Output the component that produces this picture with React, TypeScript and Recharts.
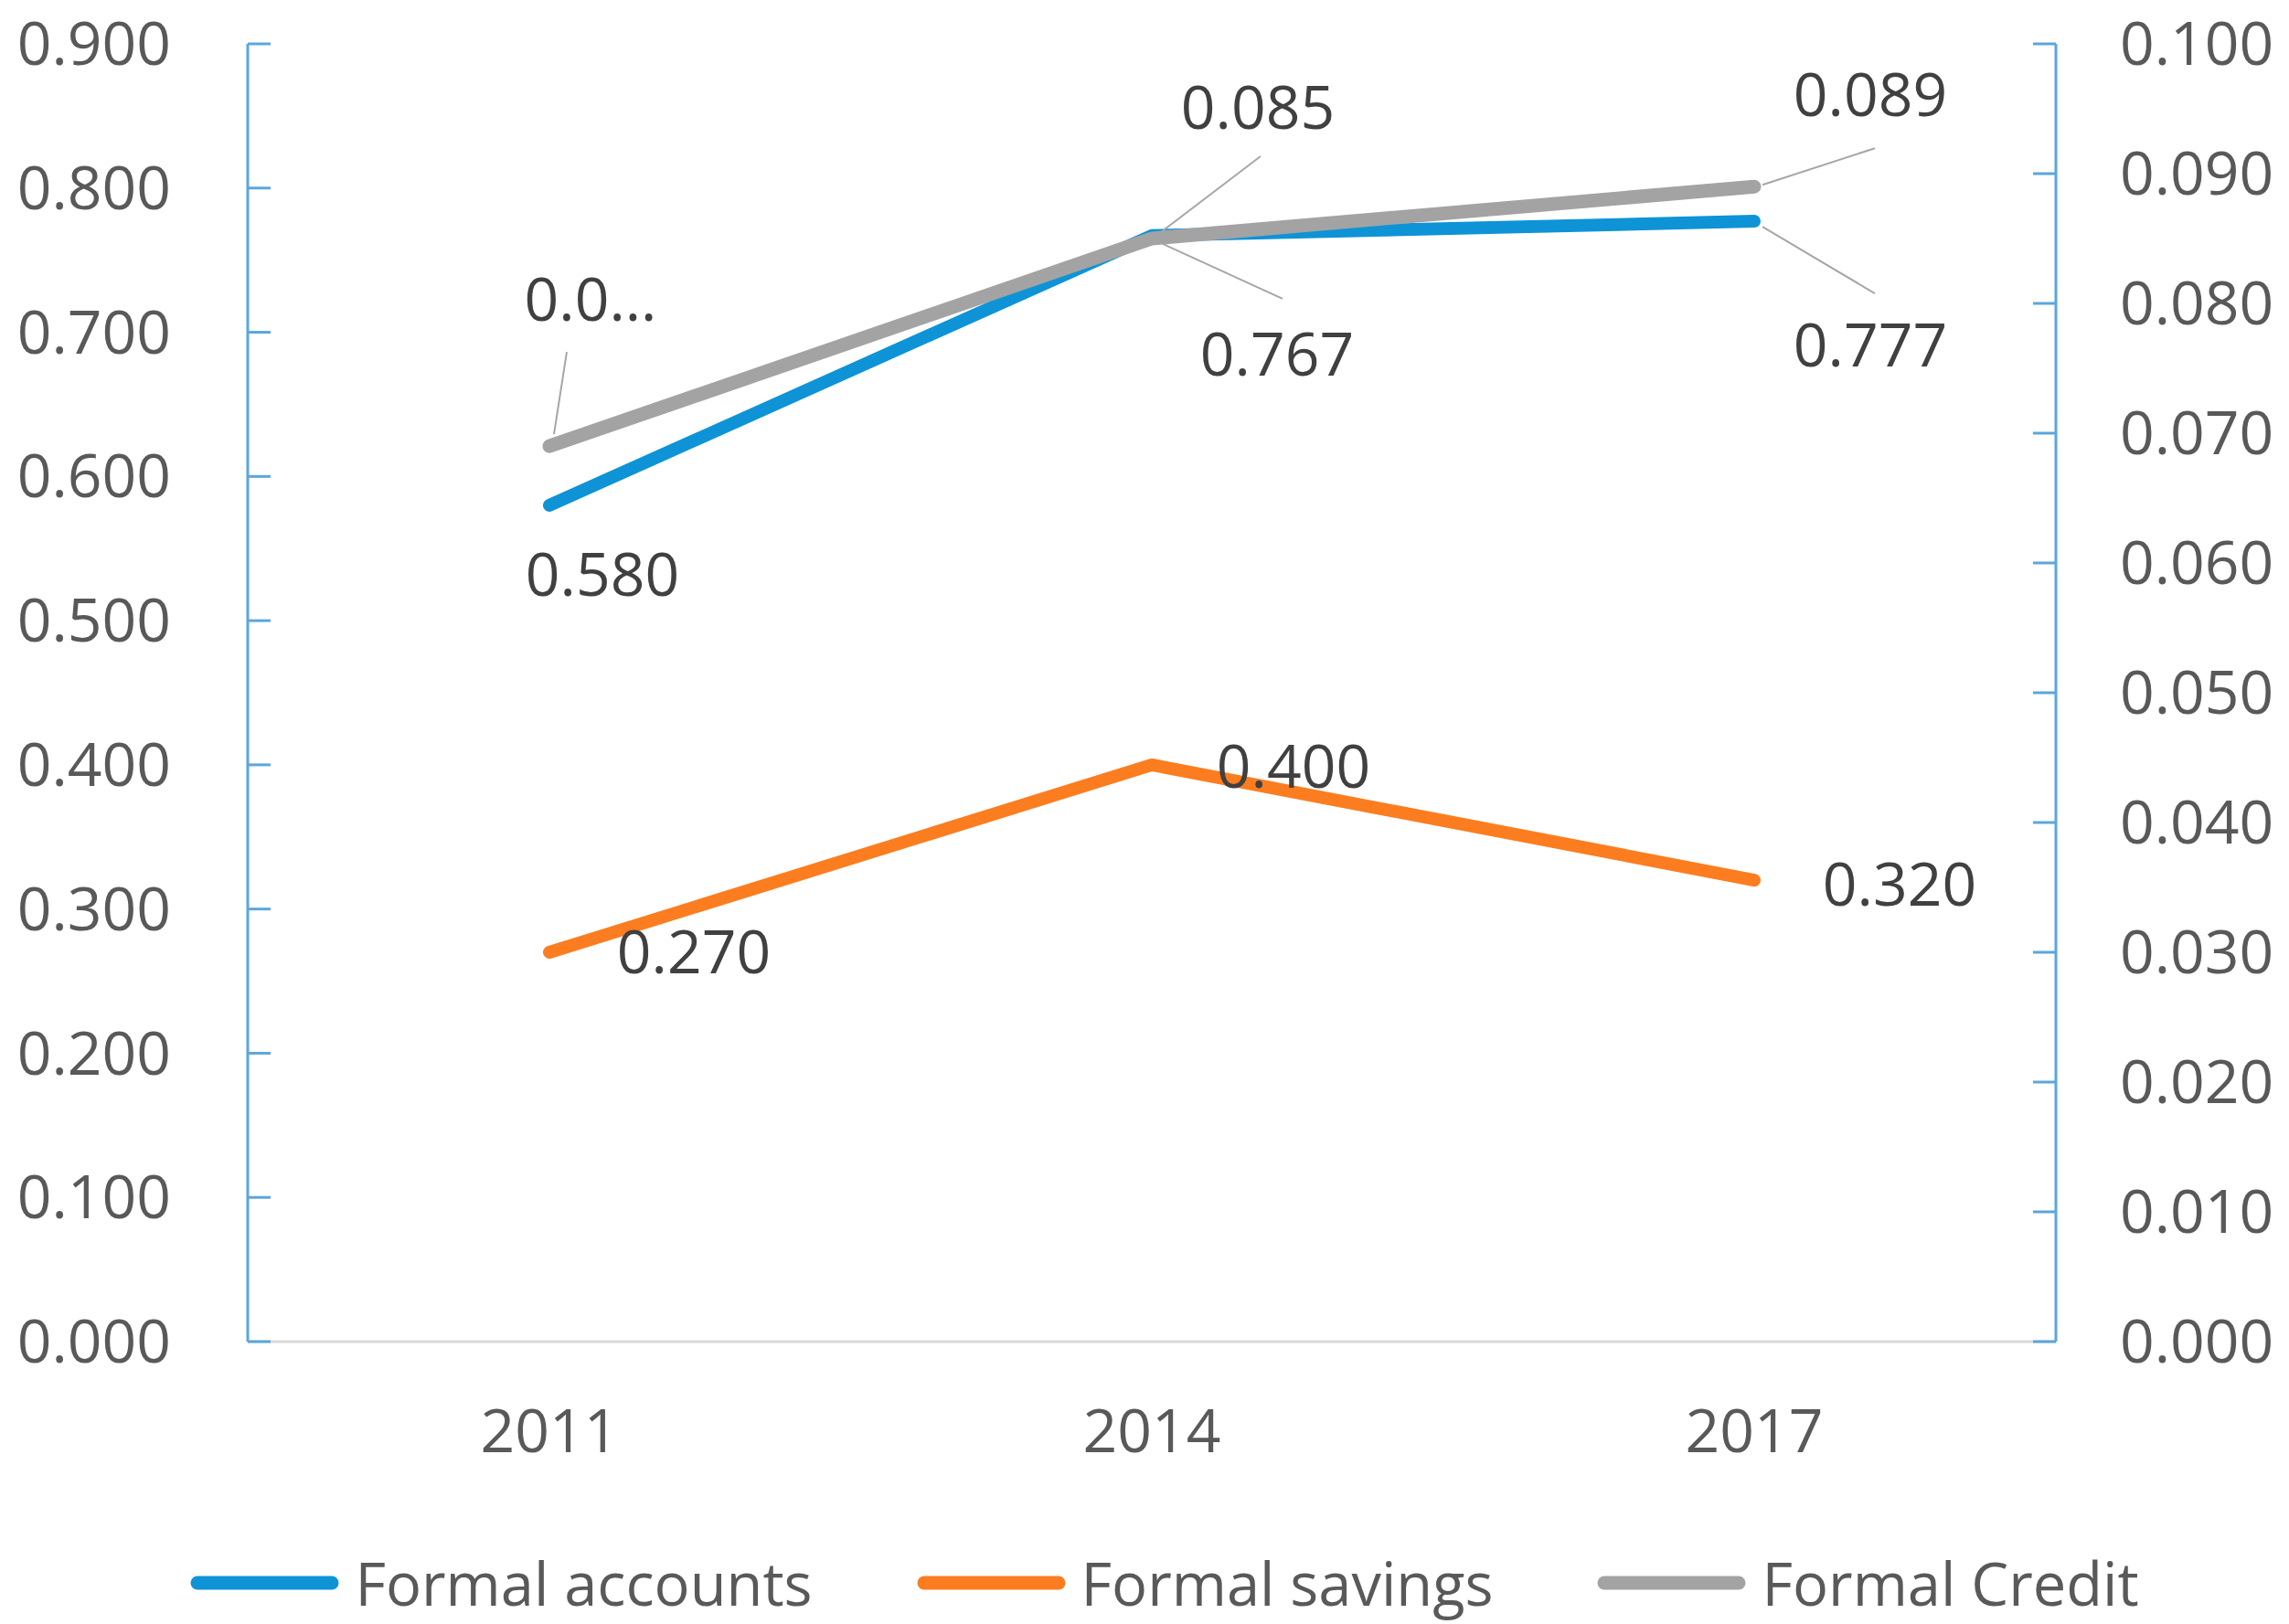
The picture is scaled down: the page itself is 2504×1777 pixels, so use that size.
import React from "react";
import { LineChart, Line, XAxis, YAxis, Legend, LabelList } from "recharts";

const years = ["2011", "2014", "2017"];
const formalAccounts = [0.58, 0.767, 0.777];
const formalSavings = [0.27, 0.4, 0.32];
const formalCredit = [0.069, 0.085, 0.089];
const seriesNames = ["Formal accounts", "Formal savings", "Formal Credit"];
const leftTicks = [0, 0.1, 0.2, 0.3, 0.4, 0.5, 0.6, 0.7, 0.8, 0.9];
const rightTicks = [0, 0.01, 0.02, 0.03, 0.04, 0.05, 0.06, 0.07, 0.08, 0.09, 0.1];

const data = years.map((year, i) => ({
  year,
  accounts: formalAccounts[i],
  savings: formalSavings[i],
  credit: formalCredit[i],
}));

const FONT = '"Open Sans", "Noto Sans", sans-serif';
const AXIS_BLUE = "#5BA6DD";
const TICK_TEXT = "#595959";
const LABEL_TEXT = "#404040";

// label placement relative to each point, plus optional leader line
type LabelSpec = { dx: number; dy: number; text?: string; lead?: number[] };

const accountLabels: LabelSpec[] = [
  { dx: 58, dy: 76 },
  { dx: 137, dy: 130, lead: [12, 9, 143, 69] },
  { dx: 127, dy: 136, lead: [9, 6, 132, 79] },
];
const savingsLabels: LabelSpec[] = [
  { dx: 158, dy: 0 },
  { dx: 155, dy: 2 },
  { dx: 159, dy: 5 },
];
const creditLabels: LabelSpec[] = [
  { dx: 45, dy: -160, text: "0.0...", lead: [5, -13, 19, -103] },
  { dx: 116, dy: -143, lead: [10, -7, 119, -90] },
  { dx: 127, dy: -100, lead: [9, -2, 132, -42] },
];

const makeLabel = (specs: LabelSpec[]) => (props: any) => {
  const x = props.x ?? props.viewBox?.x;
  const y = props.y ?? props.viewBox?.y;
  const index = props.index ?? 0;
  const spec = specs[index];
  if (x == null || y == null || !spec) return null;
  const text = spec.text ?? Number(props.value).toFixed(3);
  return (
    <g>
      {spec.lead && (
        <line
          x1={x + spec.lead[0]}
          y1={y + spec.lead[1]}
          x2={x + spec.lead[2]}
          y2={y + spec.lead[3]}
          stroke="#A6A6A6"
          strokeWidth={2}
        />
      )}
      <text
        x={x + spec.dx}
        y={y + spec.dy}
        dy="0.35em"
        textAnchor="middle"
        fill={LABEL_TEXT}
        fontSize={66}
        fontFamily={FONT}
      >
        {text}
      </text>
    </g>
  );
};

const LeftTick = (props: any) => {
  const { x, y, payload } = props;
  return (
    <g>
      <line x1={x + 84} x2={x + 109} y1={y} y2={y} stroke={AXIS_BLUE} strokeWidth={3} />
      <text x={x} y={y} dy="0.35em" textAnchor="end" fill={TICK_TEXT} fontSize={66} fontFamily={FONT}>
        {Number(payload.value).toFixed(3)}
      </text>
    </g>
  );
};

const RightTick = (props: any) => {
  const { x, y, payload } = props;
  return (
    <g>
      <line x1={x - 70} x2={x - 95} y1={y} y2={y} stroke={AXIS_BLUE} strokeWidth={3} />
      <text x={x} y={y} dy="0.35em" textAnchor="start" fill={TICK_TEXT} fontSize={66} fontFamily={FONT}>
        {Number(payload.value).toFixed(3)}
      </text>
    </g>
  );
};

const renderLegend = (props: any) => {
  const items = [...(props.payload || [])].sort(
    (a: any, b: any) => seriesNames.indexOf(a.value) - seriesNames.indexOf(b.value)
  );
  return (
    <div
      style={{
        display: "flex",
        justifyContent: "center",
        alignItems: "center",
        gap: 114,
        height: 90,
        paddingLeft: 44,
        fontFamily: FONT,
        fontSize: 65,
        color: TICK_TEXT,
      }}
    >
      {items.map((entry: any) => (
        <div key={entry.value} style={{ display: "flex", alignItems: "center" }}>
          <svg width={163} height={20}>
            <line x1={8} x2={155} y1={10} y2={10} stroke={entry.color} strokeWidth={15} strokeLinecap="round" />
          </svg>
          <span style={{ marginLeft: 17, lineHeight: 1 }}>{entry.value}</span>
        </div>
      ))}
    </div>
  );
};

export default function App() {
  return (
    <div style={{ position: "absolute", left: 0, top: 0, background: "#fff" }}>
      <LineChart
        width={2504}
        height={1777}
        data={data}
        margin={{ top: 48, right: 0, bottom: 69, left: 0 }}
      >
        <XAxis
          dataKey="year"
          height={150}
          padding={{ left: 330, right: 330 }}
          axisLine={{ stroke: "#D9D9D9", strokeWidth: 3 }}
          tickLine={false}
          tickSize={0}
          tickMargin={74}
          tick={{ fill: TICK_TEXT, fontSize: 66, fontFamily: FONT }}
        />
        <YAxis
          yAxisId="left"
          orientation="left"
          width={271}
          domain={[0, 0.9]}
          ticks={leftTicks}
          interval={0}
          axisLine={{ stroke: AXIS_BLUE, strokeWidth: 3 }}
          tickLine={false}
          tickSize={0}
          tickMargin={84}
          tick={<LeftTick />}
        />
        <YAxis
          yAxisId="right"
          orientation="right"
          width={255}
          domain={[0, 0.1]}
          ticks={rightTicks}
          interval={0}
          axisLine={{ stroke: AXIS_BLUE, strokeWidth: 3 }}
          tickLine={false}
          tickSize={0}
          tickMargin={70}
          tick={<RightTick />}
        />
        <Legend
          verticalAlign="bottom"
          content={renderLegend}
          wrapperStyle={{ left: 0, width: 2504, bottom: 0 }}
        />
        <Line
          yAxisId="left"
          dataKey="accounts"
          name={seriesNames[0]}
          stroke="#0E93D6"
          strokeWidth={14}
          strokeLinecap="round"
          strokeLinejoin="round"
          dot={false}
          activeDot={false}
          isAnimationActive={false}
        >
          <LabelList dataKey="accounts" content={makeLabel(accountLabels)} />
        </Line>
        <Line
          yAxisId="left"
          dataKey="savings"
          name={seriesNames[1]}
          stroke="#FC7D1F"
          strokeWidth={14}
          strokeLinecap="round"
          strokeLinejoin="round"
          dot={false}
          activeDot={false}
          isAnimationActive={false}
        >
          <LabelList dataKey="savings" content={makeLabel(savingsLabels)} />
        </Line>
        <Line
          yAxisId="right"
          dataKey="credit"
          name={seriesNames[2]}
          stroke="#A3A3A3"
          strokeWidth={15}
          strokeLinecap="round"
          strokeLinejoin="round"
          dot={false}
          activeDot={false}
          isAnimationActive={false}
        >
          <LabelList dataKey="credit" content={makeLabel(creditLabels)} />
        </Line>
      </LineChart>
    </div>
  );
}
